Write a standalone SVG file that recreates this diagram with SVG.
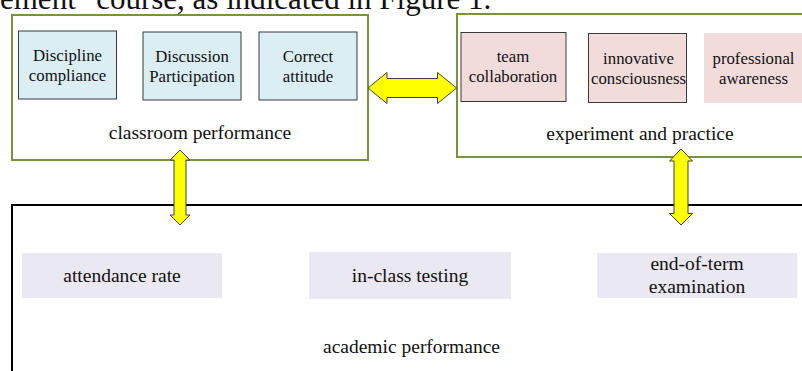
<svg xmlns="http://www.w3.org/2000/svg" width="802" height="371" viewBox="0 0 802 371">
<style>
text{font-family:"Liberation Serif","Times New Roman",serif;fill:#111;text-anchor:middle}
.sm{font-size:16.8px}
.lb{font-size:19.5px}
.grp{fill:#fff;stroke:#77933C;stroke-width:2}
.blue{fill:#DBEEF3;stroke:#3a3a3a;stroke-width:1}
.pink{fill:#F2DCDB;stroke:#3a3a3a;stroke-width:1}
.pinkn{fill:#F2DCDB}
.gray{fill:#EAE8F0}
.arrow{fill:#FFFF00;stroke:#404040;stroke-width:1}
</style>
<rect width="802" height="371" fill="#fff"/>
<text x="0" y="8.5" style="font-size:31px;text-anchor:start">ement" course, as indicated in Figure 1.</text>

<g id="classroom">
<rect class="grp" x="12" y="15" width="356" height="145"/>
<text class="lb" x="200" y="139">classroom performance</text>
</g>
<g id="discipline">
<rect class="blue" x="18.5" y="31" width="98" height="68"/>
<text class="sm" x="67.5" y="61">Discipline</text>
<text class="sm" x="67.5" y="81">compliance</text>
</g>
<g id="discussion">
<rect class="blue" x="143" y="32" width="98" height="68"/>
<text class="sm" x="192" y="62">Discussion</text>
<text class="sm" x="192" y="82">Participation</text>
</g>
<g id="attitude">
<rect class="blue" x="259" y="32" width="98" height="68"/>
<text class="sm" x="308" y="62">Correct</text>
<text class="sm" x="308" y="82">attitude</text>
</g>

<g id="experiment">
<rect class="grp" x="457" y="14" width="360" height="143"/>
<text class="lb" x="640" y="140">experiment and practice</text>
</g>
<g id="team">
<rect class="pink" x="461" y="32.5" width="105" height="69"/>
<text class="sm" x="513" y="62">team</text>
<text class="sm" x="513" y="82">collaboration</text>
</g>
<g id="innovative">
<rect class="pink" x="588.5" y="33.5" width="98" height="69"/>
<text class="sm" x="638.5" y="63.5">innovative</text>
<text class="sm" x="638.5" y="83.5">consciousness</text>
</g>
<g id="professional">
<rect class="pinkn" x="704" y="33" width="100" height="70"/>
<text class="sm" x="753.5" y="63.5">professional</text>
<text class="sm" x="753.5" y="83.5">awareness</text>
</g>

<g id="academic">
<rect x="12" y="205" width="810" height="190" fill="#fff" stroke="#000" stroke-width="2"/>
<text class="lb" x="411.5" y="353">academic performance</text>
</g>
<g id="attendance">
<rect class="gray" x="22" y="253" width="200" height="45"/>
<text class="lb" x="122" y="282">attendance rate</text>
</g>
<g id="testing">
<rect class="gray" x="309" y="252" width="202" height="47"/>
<text class="lb" x="410" y="282">in-class testing</text>
</g>
<g id="exam">
<rect class="gray" x="597" y="253" width="200" height="45"/>
<text class="lb" x="697" y="270">end-of-term</text>
<text class="lb" x="697" y="293">examination</text>
</g>

<g id="connectors">
<path class="arrow" d="M368,88 L387,72.5 L387,78.5 L437.5,78.5 L437.5,72.5 L456.5,88 L437.5,103.5 L437.5,97.5 L387,97.5 L387,103.5 Z"/>
<path class="arrow" d="M180,150 L190,160 L186,160 L186,215 L190,215 L180,225 L170,215 L174,215 L174,160 L170,160 Z"/>
<path class="arrow" d="M681,149 L692.5,161 L688,161 L688,213.5 L692.5,213.5 L681,225 L669.5,213.5 L674,213.5 L674,161 L669.5,161 Z"/>
</g>
</svg>
